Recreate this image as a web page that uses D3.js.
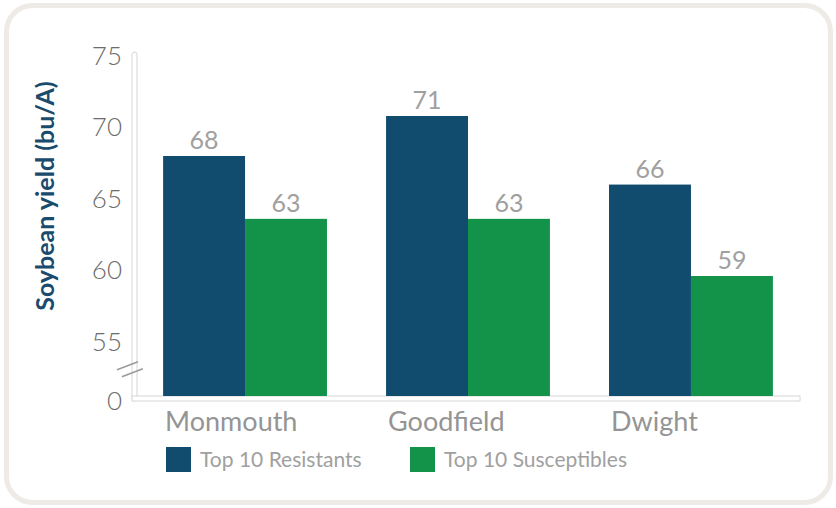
<!DOCTYPE html>
<html lang="en">
<head>
    <meta charset="UTF-8">
    <title>Soybean yield</title>
    <script src="https://d3js.org/d3.v7.min.js"></script>
    <style>
        body {
            margin: 0;
            padding: 0;
            background: #fff;
            font-family: 'Lato', 'Open Sans', sans-serif;
        }
        .tick text {
            font-size: 26px;
            font-weight: 300;
            fill: #6c6c6c;
        }
    </style>
</head>
<body>
    <svg id="chart"></svg>

    <script>
        // data
        const locations = ["Monmouth", "Goodfield", "Dwight"];
        const series = ["Top 10 Resistants", "Top 10 Susceptibles"];
        const resistants = [68.0, 70.8, 66.0];
        const susceptibles = [63.6, 63.6, 59.6];
        const resistantLabels = ["68", "71", "66"];
        const susceptibleLabels = ["63", "63", "59"];
        const yTicks = [55, 60, 65, 70, 75];

        const W = 836, H = 508;
        const axisX = 133, axisY = 396, plotTop = 56, plotRight = 803;

        const svg = d3.select("#chart")
            .attr("width", W)
            .attr("height", H);

        // rounded frame
        svg.append("rect")
            .attr("x", 6.5).attr("y", 5.5)
            .attr("width", 824).attr("height", 497)
            .attr("rx", 26)
            .attr("fill", "#fff")
            .attr("stroke", "#eeeae6")
            .attr("stroke-width", 5);

        // scales
        const y = d3.scaleLinear()
            .domain([51.2, 75])
            .range([axisY, plotTop]);

        const x0 = d3.scaleBand()
            .domain(locations)
            .range([axisX, plotRight])
            .paddingInner(0.265)
            .paddingOuter(0.135);

        const x1 = d3.scaleBand()
            .domain(series)
            .range([0, x0.bandwidth()]);

        const color = d3.scaleOrdinal()
            .domain(series)
            .range(["#114c6e", "#13934a"]);

        const rows = locations.map((loc, i) => ({
            loc,
            bars: [
                { s: series[0], v: resistants[i], label: resistantLabels[i] },
                { s: series[1], v: susceptibles[i], label: susceptibleLabels[i] }
            ]
        }));

        // axis strips (drawn as thin outlined bands)
        svg.append("rect")
            .attr("x", axisX - 1).attr("y", plotTop - 4)
            .attr("width", 5).attr("height", axisY - plotTop + 9)
            .attr("rx", 2.5)
            .attr("fill", "#fff")
            .attr("stroke", "#d6d6d6")
            .attr("stroke-width", 1);

        svg.append("rect")
            .attr("x", axisX - 1).attr("y", axisY)
            .attr("width", plotRight - axisX - 2).attr("height", 5)
            .attr("fill", "#fff")
            .attr("stroke", "#d6d6d6")
            .attr("stroke-width", 1);

        // y axis tick labels
        svg.append("g")
            .attr("transform", `translate(${axisX},0)`)
            .call(d3.axisLeft(y).tickValues(yTicks).tickSize(0).tickPadding(11))
            .call(g => g.select(".domain").remove())
            .selectAll("text")
            .attr("font-family", "Lato, sans-serif");

        // "0" under the axis break
        svg.append("text")
            .attr("x", axisX - 11)
            .attr("y", axisY + 6)
            .attr("dy", "0.32em")
            .attr("text-anchor", "end")
            .attr("font-size", 26)
            .attr("font-weight", 300)
            .attr("fill", "#6c6c6c")
            .text("0");

        // axis break marks
        [0, 7].forEach(off => {
            svg.append("line")
                .attr("x1", axisX - 16 + off * 0.7).attr("y1", y(55) + 28 + off)
                .attr("x2", axisX + 5 + off * 0.7).attr("y2", y(55) + 20 + off)
                .attr("stroke", "#9a9a9a")
                .attr("stroke-width", 1.5);
        });

        // bars
        const groups = svg.append("g")
            .selectAll("g")
            .data(rows)
            .join("g")
            .attr("transform", d => `translate(${x0(d.loc)},0)`);

        groups.selectAll("rect")
            .data(d => d.bars)
            .join("rect")
            .attr("x", d => x1(d.s))
            .attr("y", d => y(d.v))
            .attr("width", x1.bandwidth())
            .attr("height", d => axisY - y(d.v))
            .attr("fill", d => color(d.s));

        groups.selectAll("text")
            .data(d => d.bars)
            .join("text")
            .attr("x", d => x1(d.s) + x1.bandwidth() / 2)
            .attr("y", d => y(d.v) - 7)
            .attr("text-anchor", "middle")
            .attr("font-size", 25)
            .attr("fill", "#a0a0a0")
            .text(d => d.label);

        // category labels
        svg.append("g")
            .selectAll("text")
            .data(locations)
            .join("text")
            .attr("x", d => x0(d) + 2)
            .attr("y", 431)
            .attr("font-size", 27)
            .attr("fill", "#949494")
            .text(d => d);

        // legend
        const legendX = [166, 410];
        const legend = svg.append("g")
            .selectAll("g")
            .data(series)
            .join("g")
            .attr("transform", (d, i) => `translate(${legendX[i]},447)`);

        legend.append("rect")
            .attr("width", 25)
            .attr("height", 25)
            .attr("fill", d => color(d));

        legend.append("text")
            .attr("x", 34)
            .attr("y", 13)
            .attr("dy", "0.35em")
            .attr("font-size", 21)
            .attr("fill", "#a0a0a0")
            .text(d => d);

        // y axis title
        svg.append("text")
            .attr("transform", "translate(45,196) rotate(-90)")
            .attr("text-anchor", "middle")
            .attr("dy", "0.35em")
            .attr("font-size", 25)
            .attr("font-weight", "bold")
            .attr("fill", "#1a4b6c")
            .text("Soybean yield (bu/A)");
    </script>
</body>
</html>
